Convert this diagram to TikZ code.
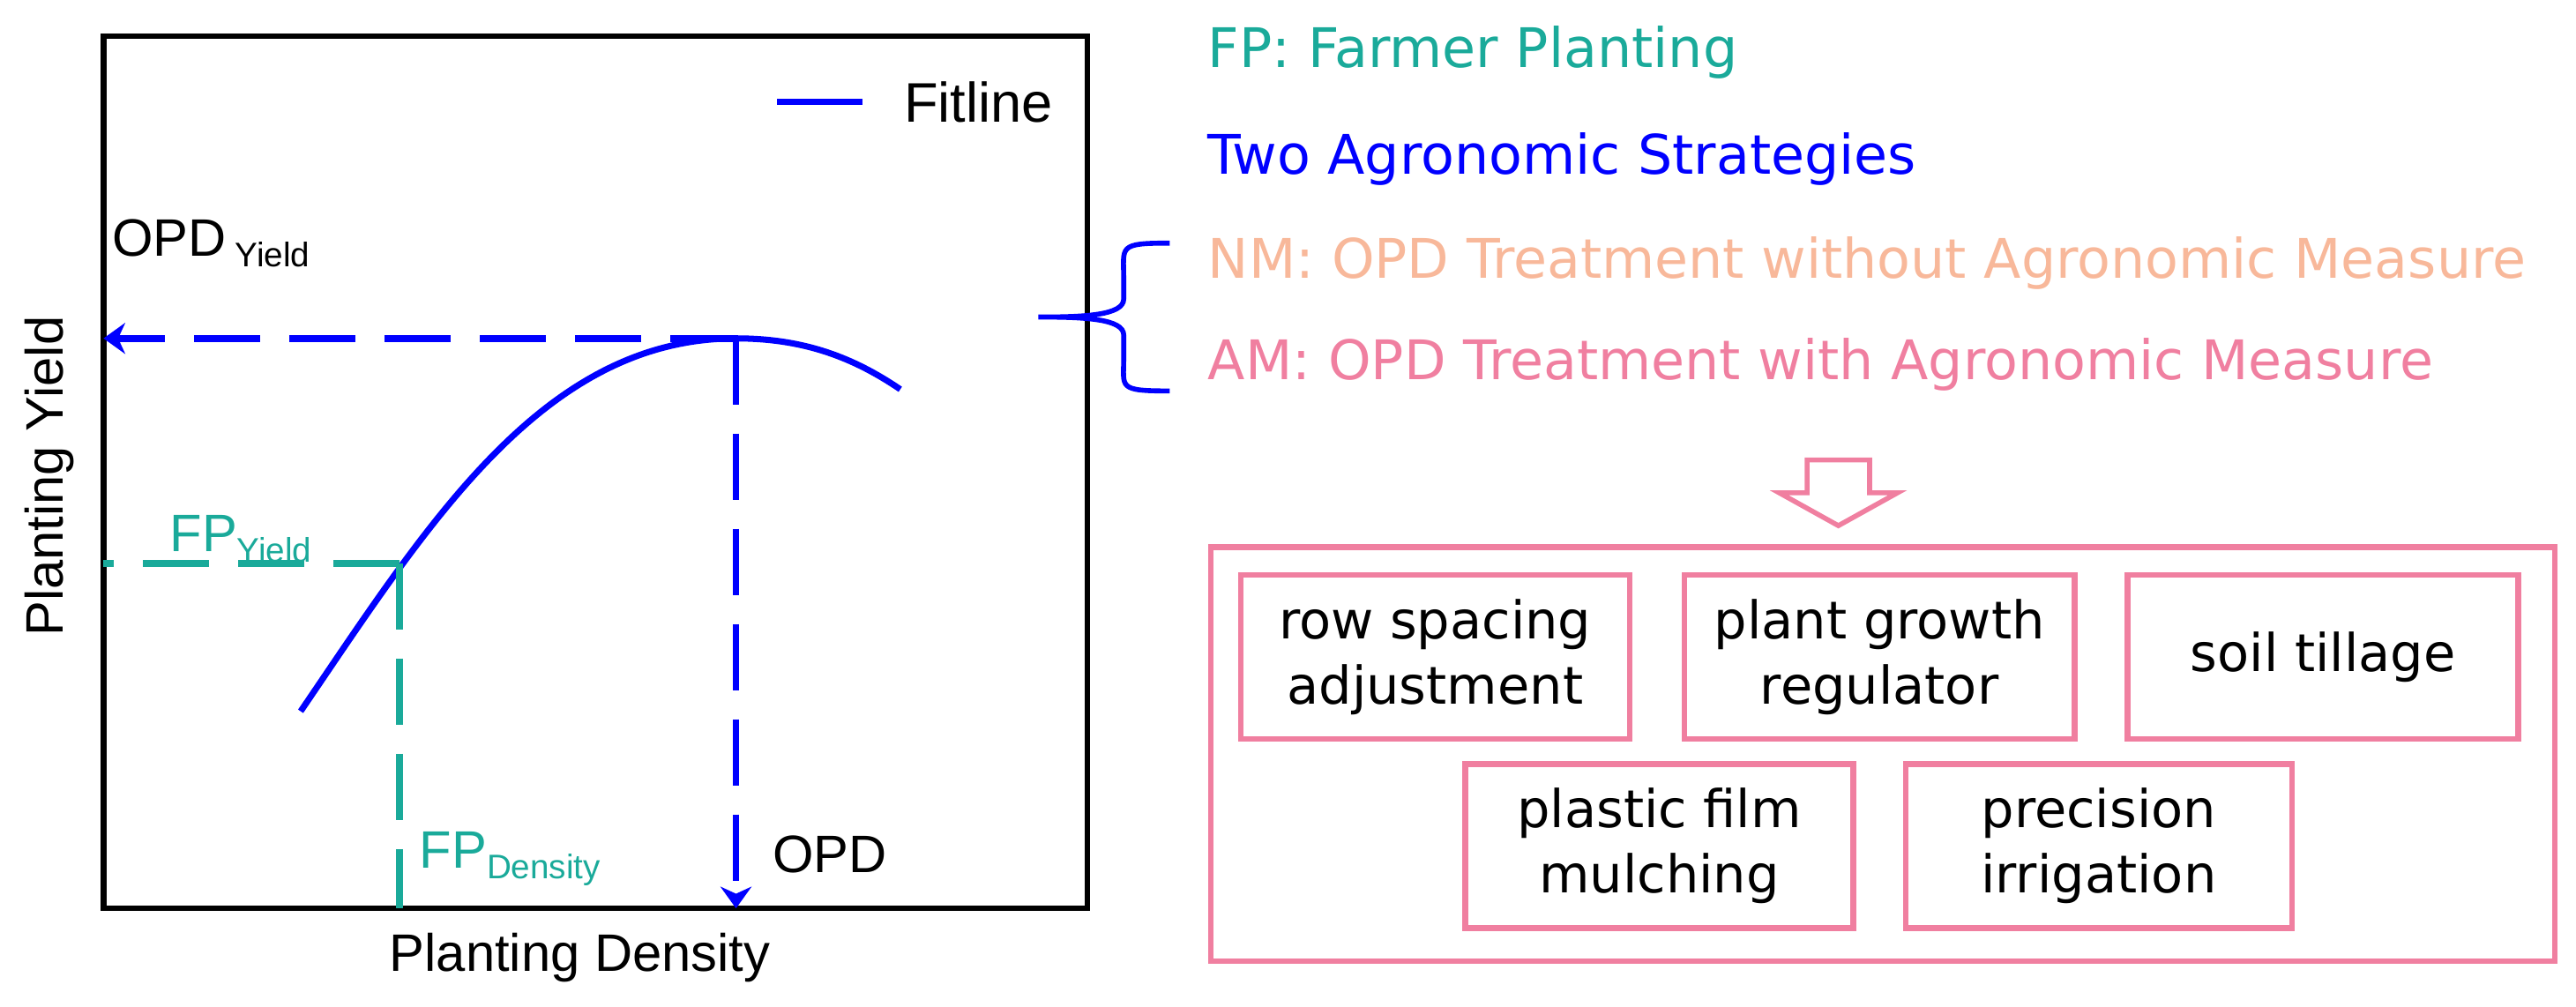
\documentclass[tikz,border=0pt]{standalone}
\usepackage{fontspec}
\setmainfont{Liberation Sans}
\newfontfamily\dvs{DejaVu Sans}
\usetikzlibrary{arrows.meta,decorations.pathreplacing}
\definecolor{teal1}{HTML}{1AAA9A}
\definecolor{peach}{HTML}{F8B89A}
\definecolor{pink1}{HTML}{F07FA0}
\begin{document}
\begin{tikzpicture}[x=0.01863cm,y=-0.01863cm,
  lbl/.style={font=\fontsize{17}{20}\selectfont,inner sep=0},
  rlbl/.style={font=\dvs\fontsize{17.6}{20}\selectfont,inner sep=0,anchor=west},
  dsh/.style={line width=2.2pt,dash pattern=on 0.75cm off 0.33cm},
  sbox/.style={draw=pink1,line width=1.8pt,font=\dvs\fontsize{16.8}{21}\selectfont,align=center,inner sep=0}]
\useasboundingbox (0,0) rectangle (1568,613);
\draw[line width=1.8pt] (63,22) rectangle (662,553);
% legend
\coordinate (l1) at (473,62); \coordinate (l2) at (525,62);
\draw[blue,line width=2pt] (l1) -- (l2);
\node[lbl,anchor=west,font=\fontsize{18}{20}\selectfont] (fit) at (550,62) {Fitline};
% curve
\coordinate (pk) at (448,206);
\coordinate (fp) at (243,343);
\coordinate (c0) at (183,433);
\coordinate (c1) at (548,237);
\draw[blue,line width=2pt] (c0) .. controls (260,320) and (330,206) .. (pk) .. controls (490,206) and (520,218) .. (c1);
\coordinate (yax) at (63,206);
\coordinate (xax) at (448,553);
\draw[blue,dsh,-{Stealth[length=7pt,width=10pt]}] (pk) -- (yax);
\draw[blue,dsh,-{Stealth[length=7pt,width=10pt]}] (pk) -- (xax);
\coordinate (fy) at (63,343);
\coordinate (fx) at (243,553);
\draw[teal1,dsh] (fp) -- (fy);
\draw[teal1,dsh] (fp) -- (fx);
\node[lbl,anchor=west] (opdy) at (68,148) {OPD\,{\fontsize{11}{12}\selectfont\raisebox{-0.6ex}{Yield}}};
\node[lbl,anchor=west,text=teal1] (fpy) at (103,328) {FP{\fontsize{11}{12}\selectfont\raisebox{-0.6ex}{Yield}}};
\node[lbl,anchor=west,text=teal1] (fpd) at (255,523) {FP{\fontsize{11}{12}\selectfont\raisebox{-0.6ex}{Density}}};
\node[lbl,anchor=west] (opd) at (470,520) {OPD};
\node[lbl,rotate=90] (ylab) at (30,290) {Planting Yield};
\node[lbl] (xlab) at (353,583) {Planting Density};
% right texts
\node[rlbl,text=teal1] (t1) at (735,32) {FP: Farmer Planting};
\node[rlbl,text=blue] (t2) at (735,97) {Two Agronomic Strategies};
\node[rlbl,text=peach] (t3) at (735,160) {NM: OPD Treatment without Agronomic Measure};
\node[rlbl,text=pink1] (t4) at (735,222) {AM: OPD Treatment with Agronomic Measure};
\draw[blue,line width=1.6pt] (712,148) .. controls (680,148) and (684,150) .. (684,170) -- (684,182) .. controls (684,192) and (660,193) .. (632,193)
  .. controls (660,193) and (684,194) .. (684,204) -- (684,218) .. controls (684,236) and (680,238) .. (712,238);
% block arrow
\draw[pink1,line width=1.6pt] (1100,280) -- (1138,280) -- (1138,300) -- (1155,300) -- (1119,320) -- (1083,300) -- (1100,300) -- cycle;
% boxes
\draw[pink1,line width=1.8pt] (737,333) rectangle (1555,585);
\node[sbox,minimum width=4.41cm,minimum height=1.86cm] (b1) at (873.5,400) {row spacing\\adjustment};
\node[sbox,minimum width=4.43cm,minimum height=1.86cm] (b2) at (1144,400) {plant growth\\regulator};
\node[sbox,minimum width=4.43cm,minimum height=1.86cm] (b3) at (1414,400) {soil tillage};
\node[sbox,minimum width=4.40cm,minimum height=1.86cm] (b4) at (1010,515) {plastic film\\mulching};
\node[sbox,minimum width=4.38cm,minimum height=1.86cm] (b5) at (1277.5,515) {precision\\irrigation};
\end{tikzpicture}
\end{document}
